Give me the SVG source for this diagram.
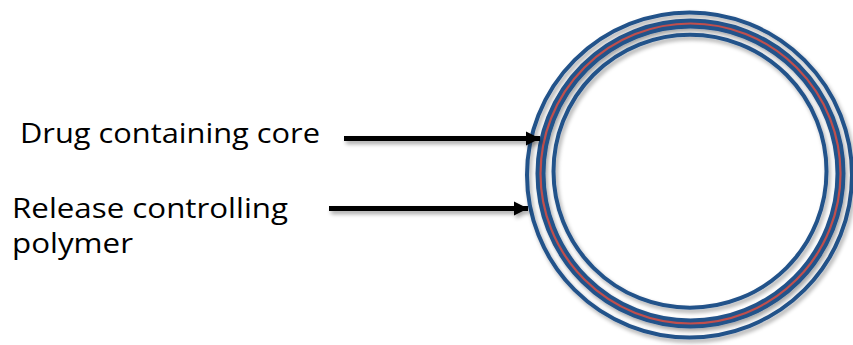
<svg xmlns="http://www.w3.org/2000/svg" width="853" height="345" viewBox="0 0 853 345">
<defs>
<filter id="sh" x="-20%" y="-20%" width="140%" height="140%">
<feGaussianBlur in="SourceAlpha" stdDeviation="2"/>
<feOffset dx="2" dy="3" result="o"/>
<feComponentTransfer><feFuncA type="linear" slope="0.35"/></feComponentTransfer>
<feMerge><feMergeNode/><feMergeNode in="SourceGraphic"/></feMerge>
</filter>
<marker id="ah" viewBox="0 0 10 10" refX="10" refY="5" markerWidth="2.8" markerHeight="2.9" orient="auto" markerUnits="strokeWidth">
<path d="M0,0 L10,5 L0,10 Z" fill="#000"/>
</marker>
<style>
.lbl{font-family:"Open Sans","Liberation Sans",sans-serif;font-size:28px;fill:#000}
.blue{fill:none;stroke:#24528a}
.arr{stroke:#000;stroke-width:5;fill:none;marker-end:url(#ah)}
</style>
</defs>
<rect width="853" height="345" fill="#fff"/>
<g id="capsule">
<circle cx="689.5" cy="175" r="162.5" class="blue" stroke-width="4" filter="url(#sh)"/>
<g filter="url(#sh)">
<circle cx="690.5" cy="173.5" r="150" class="blue" stroke-width="10"/>
<circle cx="690.5" cy="173.5" r="150" fill="none" stroke="#c0504d" stroke-width="2.2"/>
</g>
<circle cx="690" cy="171.3" r="136.5" class="blue" stroke-width="4" filter="url(#sh)"/>
</g>
<g id="label-core">
<text class="lbl" x="20" y="143" textLength="300" lengthAdjust="spacingAndGlyphs">Drug containing core</text>
</g>
<g id="label-polymer">
<text class="lbl" x="12" y="218" textLength="276" lengthAdjust="spacingAndGlyphs">Release controlling</text>
<text class="lbl" x="12" y="253" textLength="121" lengthAdjust="spacingAndGlyphs">polymer</text>
</g>
<g id="connectors" filter="url(#sh)">
<line class="arr" x1="344" y1="138.5" x2="540" y2="138.5"/>
<line class="arr" x1="329" y1="208.5" x2="528" y2="208.5"/>
</g>
</svg>
